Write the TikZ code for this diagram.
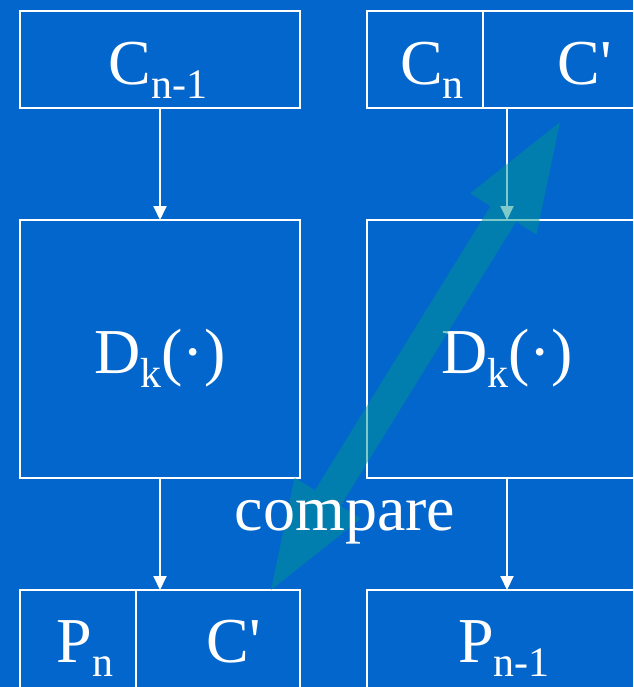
\documentclass[tikz,border=0pt]{standalone}
\usepackage{fontspec}
\setmainfont{Liberation Serif}
\usetikzlibrary{arrows.meta, calc}
\definecolor{cbg}{HTML}{0366CC}
\definecolor{cteal}{HTML}{009692}
\newcommand{\lowsub}[1]{\raisebox{-14pt}{\fontsize{42}{42}\selectfont #1}}
\tikzset{
  every picture/.style={x=1pt, y=-1pt, line width=2pt},
  box/.style={draw=white, inner sep=0pt, outer sep=0pt},
  txt/.style={text=white, font=\fontsize{64}{64}\selectfont, anchor=base, inner sep=0pt},
  arrow/.style={-{Triangle[length=14pt, width=13pt]}, draw=white, line width=2pt},
}

\begin{document}
\begin{tikzpicture}
  \useasboundingbox (0,0) rectangle (633,687);
  \clip (0,0) rectangle (633,687);
  \fill[cbg] (0,0) rectangle (633,687);
  % boxes
  \node[box, minimum width=280, minimum height=97] (cprev) at (160,59.5) {};
  \node[box, minimum width=116, minimum height=97] (cn) at (425,59.5) {};
  \node[box, minimum width=217, minimum height=97] (cpt) at (591.5,59.5) {};
  \node[box, minimum width=280, minimum height=258] (dl) at (160,349) {};
  \node[box, minimum width=333, minimum height=258] (dr) at (533.5,349) {};
  \node[box, minimum width=116, minimum height=150] (pn) at (78,665) {};
  \node[box, minimum width=164, minimum height=150] (pc) at (218,665) {};
  \node[box, minimum width=333, minimum height=150] (pprev) at (533.5,665) {};
  % labels
  \node[txt] (tcprev) at (158,85) {C\lowsub{n-1}};
  \node[txt] (tcn) at (432,85) {C\lowsub{n}};
  \node[txt] (tcpt) at (585,85) {C\textquotesingle};
  \node[txt] (tdl) at (160,373) {D\lowsub{k}(·)};
  \node[txt] (tdr) at (507,373) {D\lowsub{k}(·)};
  \node[txt] (tpn) at (85,662) {P\lowsub{n}};
  \node[txt] (tpc) at (234,662) {C\textquotesingle};
  \node[txt] (tpprev) at (504,662) {P\lowsub{n-1}};
  % flow
  \draw[arrow] (cprev.south) -- (dl.north);
  \draw[arrow] ([xshift=24pt]cpt.south west) -- ([xshift=24pt]cpt.south west |- dr.north);
  \draw[arrow] (dl.south) -- (dl.south |- pc.north);
  \draw[arrow] ([xshift=140pt]dr.south west) -- ([xshift=140pt]pprev.north west);
  % compare arrow
  \coordinate (cmptop) at (560,122);
  \coordinate (cmpbot) at (271,590);
  \begin{scope}[shift={($(cmptop)!0.5!(cmpbot)$)}, rotate=58.3]
    \fill[cteal, opacity=0.5] (275,0) -- (167,39) -- (167,15) -- (-167,15) -- (-167,39) -- (-275,0)
      -- (-167,-39) -- (-167,-15) -- (167,-15) -- (167,-39) -- cycle;
  \end{scope}
  \node[txt] (tcmp) at (345,530) {compare};
\end{tikzpicture}
\end{document}
